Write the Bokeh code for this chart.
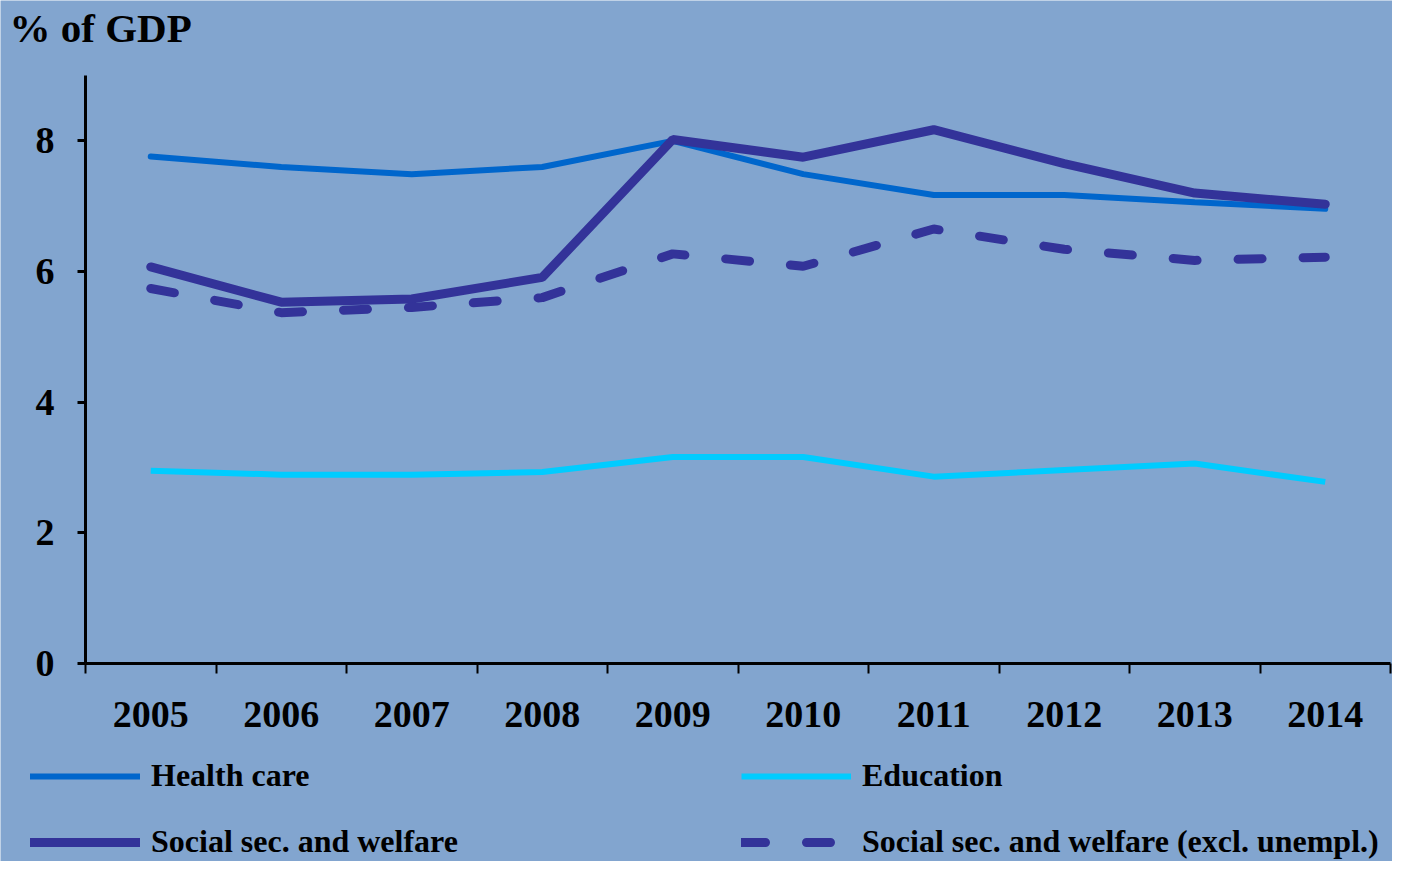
from bokeh.plotting import figure
from bokeh.models import Range1d, FixedTicker, Legend, LegendItem, Label
from bokeh.embed import file_html
from bokeh.resources import INLINE

# ---- data ----
years = [2005, 2006, 2007, 2008, 2009, 2010, 2011, 2012, 2013, 2014]
health_care = [7.76, 7.60, 7.49, 7.60, 8.00, 7.49, 7.17, 7.17, 7.06, 6.96]
education = [2.95, 2.89, 2.89, 2.93, 3.16, 3.16, 2.86, 2.96, 3.06, 2.78]
social = [6.07, 5.53, 5.58, 5.91, 8.02, 7.75, 8.17, 7.65, 7.20, 7.03]
social_excl = [5.74, 5.37, 5.45, 5.60, 6.27, 6.08, 6.65, 6.34, 6.17, 6.22]
y_ticks = [0, 2, 4, 6, 8]
y_max = 9
series_names = ["Health care", "Education", "Social sec. and welfare",
                "Social sec. and welfare (excl. unempl.)"]
title_text = "% of GDP"

BG = "#82A5CF"
FONT = "Liberation Serif"
W, H = 1392, 861

# layout (pixels from the canvas's top-left): axis box of the plot
AX_LEFT, AX_RIGHT, AX_TOP, AX_BOTTOM = 85, 1390, 75, 663
x0, x1 = years[0] - 0.5, years[-1] + 0.5
sx = (AX_RIGHT - AX_LEFT) / (x1 - x0)
sy = (AX_BOTTOM - AX_TOP) / y_max
x_range = Range1d(x0 - AX_LEFT / sx, x1 + (W - AX_RIGHT) / sx)
y_range = Range1d(-(H - AX_BOTTOM) / sy, y_max + AX_TOP / sy)

p = figure(width=W, height=H, output_backend="svg", toolbar_location=None,
           x_range=x_range, y_range=y_range,
           min_border_left=0, min_border_right=0, min_border_top=0, min_border_bottom=0)
p.background_fill_color = BG
p.border_fill_color = BG
p.outline_line_color = None
p.grid.visible = False

# x axis drawn at y=0: labels at years, ticks at boundaries (minor ticks)
xa = p.xaxis[0]
xa.fixed_location = 0
xa.bounds = (x0, x1)
xa.ticker = FixedTicker(ticks=years, minor_ticks=[y - 0.5 for y in years] + [x1])
xa.major_tick_line_color = None
xa.minor_tick_in = 0
xa.minor_tick_out = 10
xa.minor_tick_line_width = 2
xa.minor_tick_line_color = "black"
xa.axis_line_width = 3
xa.axis_line_color = "black"
xa.major_label_text_font = FONT
xa.major_label_text_font_style = "bold"
xa.major_label_text_font_size = "38px"
xa.major_label_text_color = "black"
xa.major_label_standoff = 28

ya = p.yaxis[0]
ya.fixed_location = x0
ya.bounds = (0, y_max)
ya.ticker = FixedTicker(ticks=y_ticks)
ya.major_tick_in = 0
ya.major_tick_out = 8
ya.major_tick_line_width = 3
ya.major_tick_line_color = "black"
ya.minor_tick_line_color = None
ya.axis_line_width = 3
ya.axis_line_color = "black"
ya.major_label_text_font = FONT
ya.major_label_text_font_style = "bold"
ya.major_label_text_font_size = "38px"
ya.major_label_text_color = "black"
ya.major_label_standoff = 23

# title
p.add_layout(Label(x=9, y=H - 27, x_units="screen", y_units="screen", text=title_text,
                   text_font=FONT, text_font_style="bold", text_font_size="41px",
                   text_color="black", text_baseline="alphabetic"))

# lines
r_health = p.line(years, health_care, line_color="#0066CC", line_width=6, line_cap="round")
r_edu = p.line(years, education, line_color="#00CCFF", line_width=6)
r_soc = p.line(years, social, line_color="#333399", line_width=9, line_cap="round")
r_exc = p.line(years, social_excl, line_color="#333399", line_width=9,
               line_dash="24 41", line_cap="round")

def make_legend(items, row_center):
    gh = 30
    lg = Legend(items=items, location=(30, H - row_center - gh / 2), orientation="horizontal",
                glyph_width=110, glyph_height=gh, label_height=gh,
                label_width=590, label_standoff=11, spacing=0, padding=0, margin=0,
                background_fill_alpha=0, border_line_color=None,
                label_text_font=FONT, label_text_font_style="bold",
                label_text_font_size="32px", label_text_color="black")
    return lg

leg1 = make_legend([LegendItem(label=series_names[0], renderers=[r_health]),
                    LegendItem(label=series_names[1], renderers=[r_edu])], 779)
leg2 = make_legend([LegendItem(label=series_names[2], renderers=[r_soc]),
                    LegendItem(label=series_names[3], renderers=[r_exc])], 845)
p.add_layout(leg1, "center")
p.add_layout(leg2, "center")

open("out.html", "w").write(file_html(p, INLINE))
